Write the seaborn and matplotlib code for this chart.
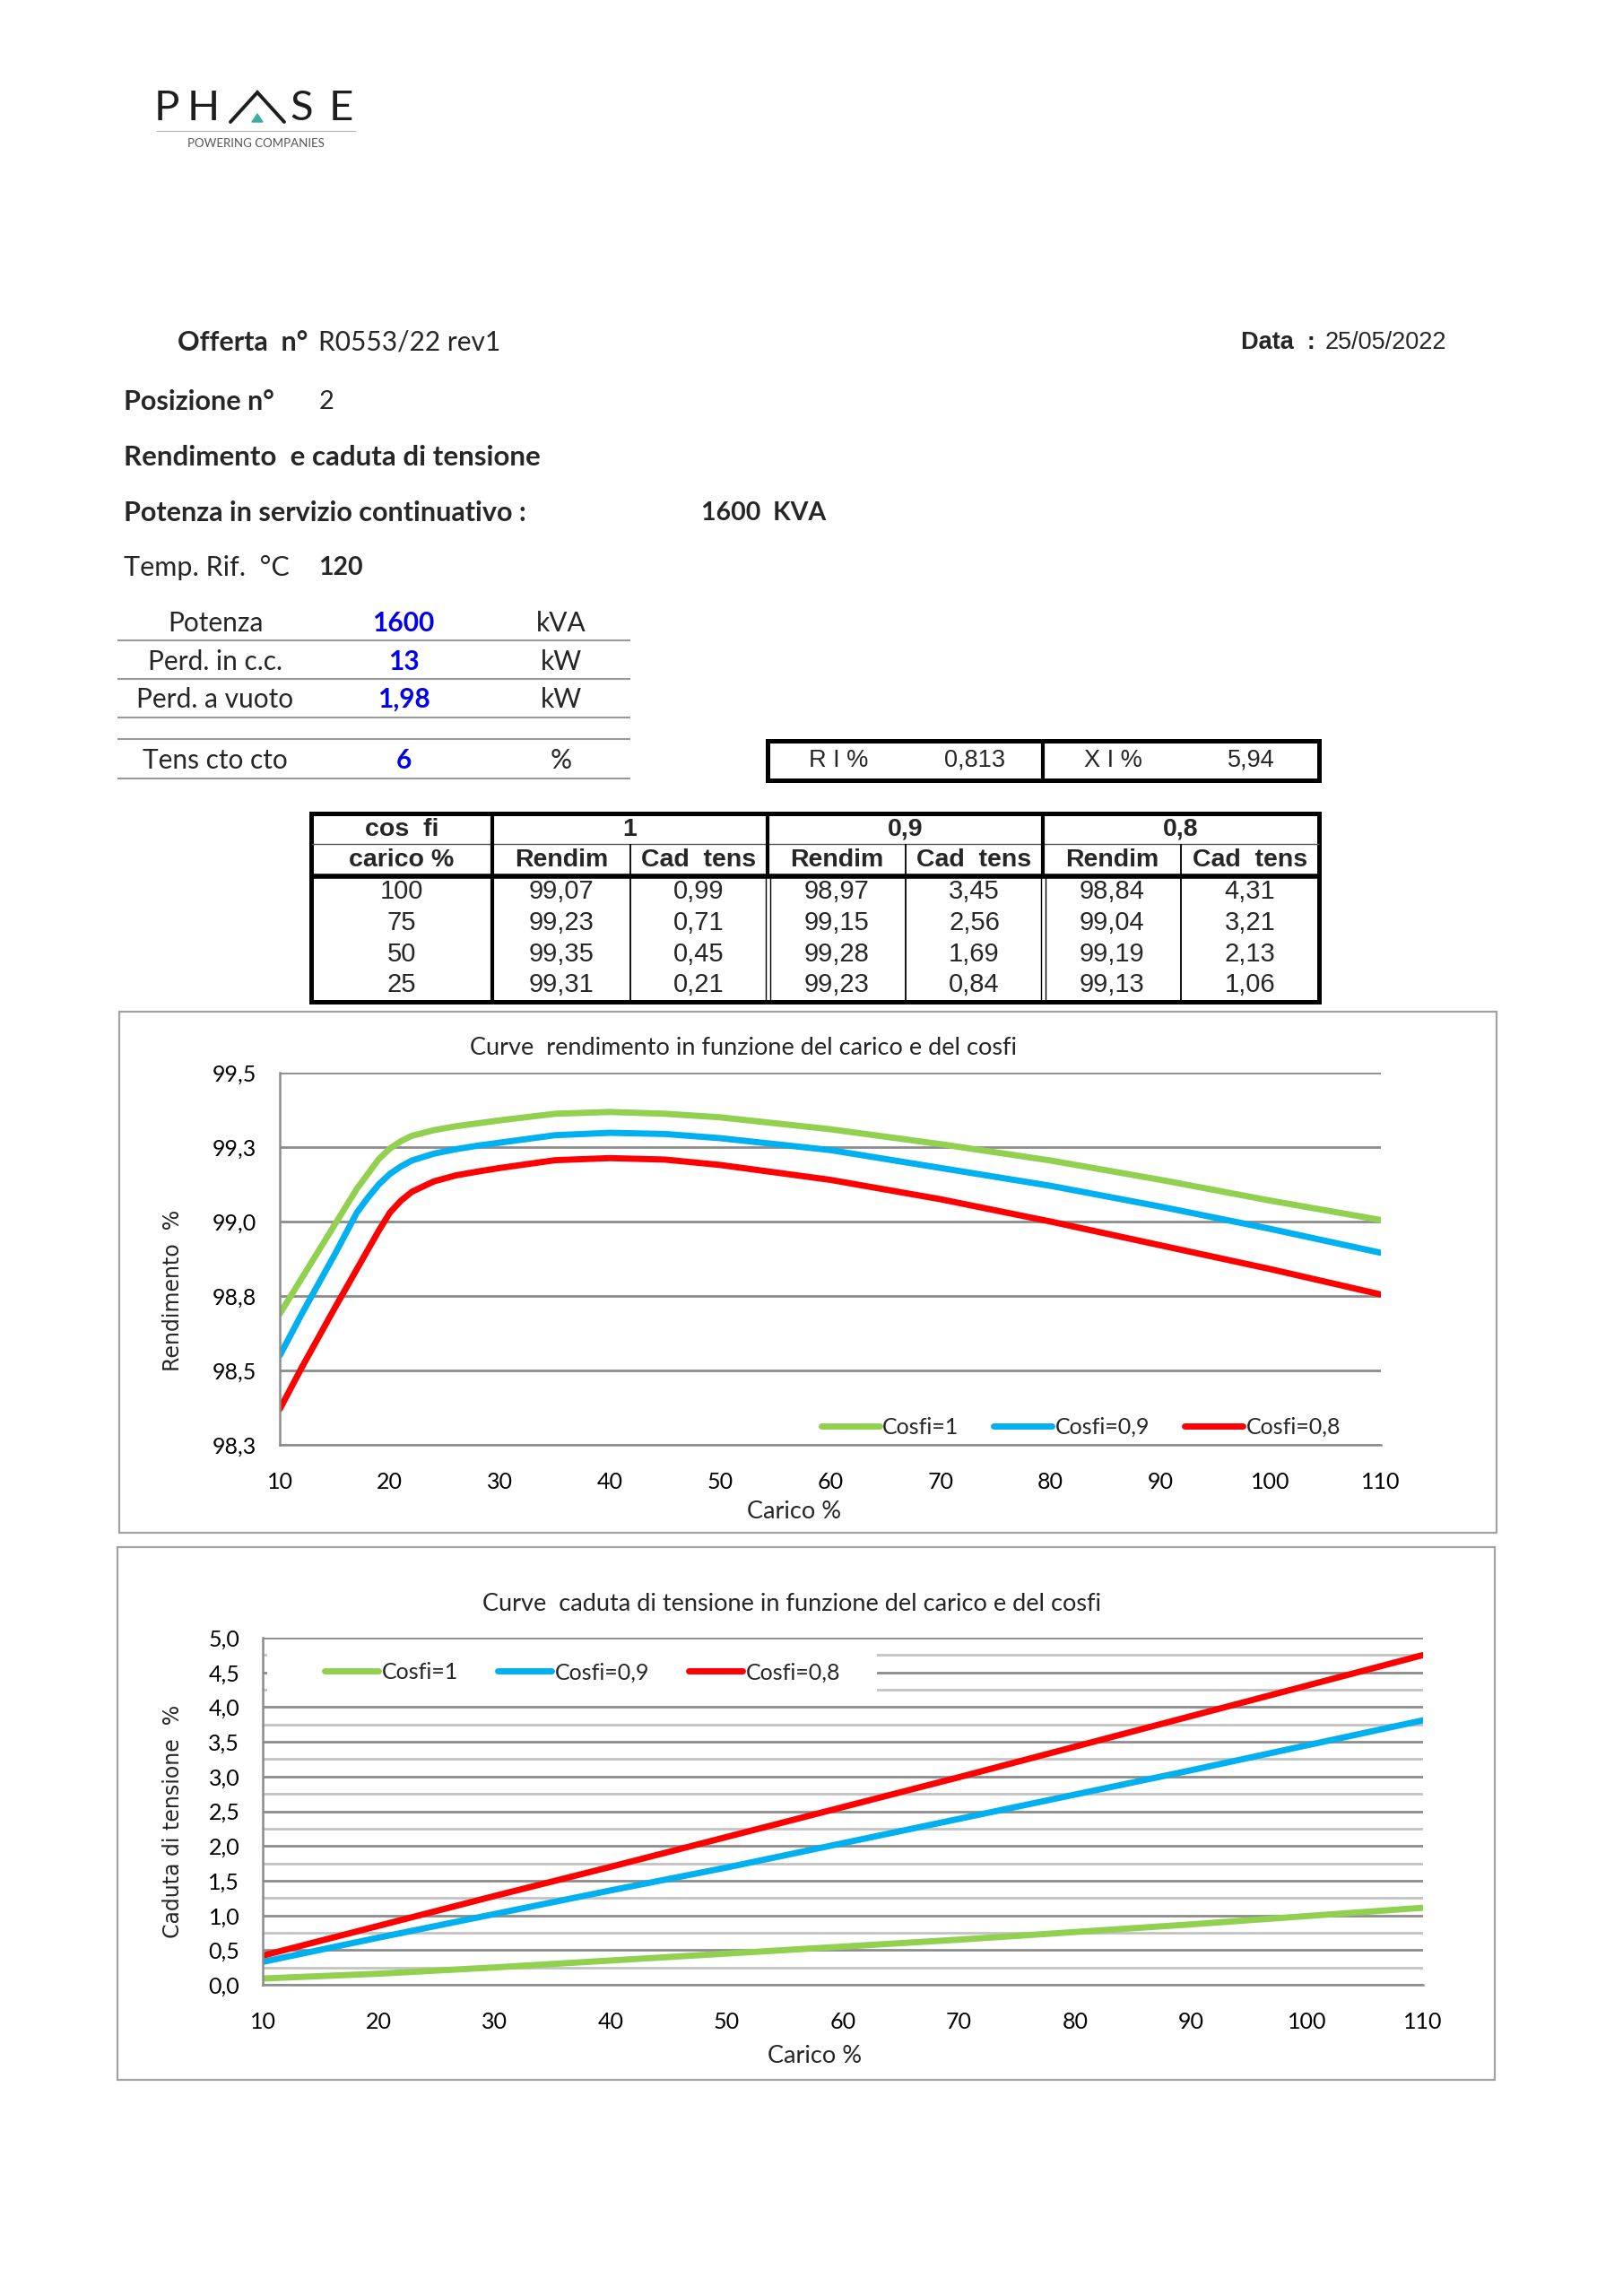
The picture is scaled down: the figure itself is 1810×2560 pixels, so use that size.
import numpy as np
import pandas as pd
import matplotlib
matplotlib.use("Agg")
import matplotlib.pyplot as plt
import seaborn as sns
from matplotlib.lines import Line2D
from matplotlib.patches import Rectangle, Polygon
from matplotlib.ticker import FuncFormatter, MultipleLocator

# --- curve rendimento ---
carico_rend = [10, 12, 15, 17, 18, 19, 20, 21, 22, 24, 26, 28, 30, 35, 40, 45, 50, 60, 70, 80, 90, 100, 110]
rend_cos1 = [98.69, 98.81, 98.99, 99.11, 99.16, 99.21, 99.245, 99.27, 99.288, 99.307, 99.32, 99.33, 99.34,
             99.362, 99.368, 99.362, 99.35, 99.31, 99.26, 99.205, 99.14, 99.07, 99.005]
rend_cos09 = [98.55, 98.69, 98.89, 99.03, 99.08, 99.125, 99.16, 99.185, 99.205, 99.228, 99.243, 99.255, 99.265,
              99.29, 99.298, 99.294, 99.28, 99.24, 99.18, 99.12, 99.05, 98.975, 98.895]
rend_cos08 = [98.37, 98.51, 98.71, 98.84, 98.905, 98.97, 99.03, 99.07, 99.10, 99.135, 99.155, 99.168, 99.18,
              99.206, 99.213, 99.208, 99.19, 99.14, 99.075, 99.0, 98.92, 98.84, 98.755]

# --- curve caduta di tensione ---
carico_cad = [10, 20, 30, 40, 50, 60, 70, 80, 90, 100, 110]
cad_cos1 = [0.09, 0.16, 0.25, 0.35, 0.45, 0.55, 0.65, 0.76, 0.87, 0.99, 1.11]
cad_cos09 = [0.33, 0.68, 1.02, 1.36, 1.69, 2.04, 2.39, 2.74, 3.09, 3.45, 3.81]
cad_cos08 = [0.42, 0.85, 1.28, 1.70, 2.13, 2.56, 2.99, 3.43, 3.87, 4.31, 4.75]

serie = ["Cosfi=1", "Cosfi=0,9", "Cosfi=0,8"]
colori = ["#92d050", "#00b0f0", "#ff0000"]

# --- tabelle ---
dati_labels = ["Potenza", "Perd. in c.c.", "Perd. a vuoto", "Tens cto cto"]
dati_valori = ["1600", "13", "1,98", "6"]
dati_unita = ["kVA", "kW", "kW", "%"]

tab_carico = [100, 75, 50, 25]
tab_rendim_1 = [99.07, 99.23, 99.35, 99.31]
tab_cad_1 = [0.99, 0.71, 0.45, 0.21]
tab_rendim_09 = [98.97, 99.15, 99.28, 99.23]
tab_cad_09 = [3.45, 2.56, 1.69, 0.84]
tab_rendim_08 = [98.84, 99.04, 99.19, 99.13]
tab_cad_08 = [4.31, 3.21, 2.13, 1.06]

ri_pct = 0.813
xi_pct = 5.94


def virgola(v, nd=2):
    return f"{v + 1e-9:.{nd}f}".replace(".", ",")


sns.set_style("white")
plt.rcParams['font.family'] = ['Lato', 'DejaVu Sans']

W, H = 1810, 2560
fig = plt.figure(figsize=(W / 100, H / 100), dpi=100)
page = fig.add_axes([0, 0, 1, 1], zorder=0)
page.set_xlim(0, W)
page.set_ylim(H, 0)
page.axis("off")

ARIAL = ['Liberation Sans', 'DejaVu Sans']


def hline(x0, x1, y, color="black", lw=1.0):
    page.plot([x0, x1], [y, y], color=color, lw=lw, solid_capstyle="butt")


def vline(x, y0, y1, color="black", lw=1.0):
    page.plot([x, x], [y0, y1], color=color, lw=lw, solid_capstyle="butt")


# logo
for ch, xc in zip("PHSE", [186, 227, 336, 380]):
    page.text(xc, 121, ch, fontsize=34, ha="center", va="center", color="#1e1e1e")
page.plot([257, 287, 317], [136, 103, 136], color="#1e1e1e", lw=2.8, solid_joinstyle="miter")
page.add_patch(Polygon([[281, 136], [293, 136], [287, 127]], closed=True, color="#3fa9a3"))
hline(174, 397, 146, color="#b5b5b5", lw=0.8)
page.text(285, 160, "POWERING COMPANIES", fontsize=9.5, ha="center", va="center", color="#555555")

# intestazione
page.text(198, 382, "Offerta  n°", fontsize=22, fontweight="bold", va="center")
page.text(355, 382, "R0553/22 rev1", fontsize=21.5, va="center")
page.text(1384, 382, "Data  :", fontsize=19.5, fontweight="bold", va="center", family=ARIAL)
page.text(1478, 382, "25/05/2022", fontsize=19.5, va="center", family=ARIAL)
page.text(138, 448, "Posizione n°", fontsize=22, fontweight="bold", va="center")
page.text(356, 448, "2", fontsize=21, va="center")
page.text(138, 510, "Rendimento  e caduta di tensione", fontsize=22.5, fontweight="bold", va="center")
page.text(138, 572, "Potenza in servizio continuativo :", fontsize=22, fontweight="bold", va="center")
page.text(782, 572, "1600  KVA", fontsize=20.5, fontweight="bold", va="center")
page.text(138, 633, "Temp. Rif.  °C", fontsize=22, va="center")
page.text(355, 633, "120", fontsize=20.5, fontweight="bold", va="center")

# tabella dati
for lab, val, un, yc in zip(dati_labels, dati_valori, dati_unita, [695, 738, 780, 848]):
    page.text(240, yc, lab, fontsize=21.5, ha="center", va="center")
    page.text(450, yc, val, fontsize=21.5, ha="center", va="center", fontweight="bold", color="#0000ee")
    page.text(626, yc, un, fontsize=21.5, ha="center", va="center")
for yl in [714, 757, 800, 824, 868]:
    hline(131, 703, yl, color="#9a9a9a", lw=1.5)

# box R I% / X I%
page.add_patch(Rectangle((856, 826), 1471 - 856, 870 - 826, fill=False, ec="black", lw=3.6))
vline(1163, 826, 870, lw=3.0)
page.text(935, 848, "R I %", fontsize=19.5, ha="center", va="center", family=ARIAL)
page.text(1087, 848, virgola(ri_pct, 3), fontsize=19.5, ha="center", va="center", family=ARIAL)
page.text(1241, 848, "X I %", fontsize=19.5, ha="center", va="center", family=ARIAL)
page.text(1395, 848, virgola(xi_pct, 2), fontsize=19.5, ha="center", va="center", family=ARIAL)

# tabella rendimento / caduta
cols = [347, 549, 703, 856, 1010, 1163, 1317, 1471]
t_top, t_mid, t_head, t_bot = 907, 941, 977, 1117
page.add_patch(Rectangle((cols[0], t_top), cols[-1] - cols[0], t_bot - t_top, fill=False, ec="black", lw=3.6))
hline(cols[0], cols[-1], t_mid, color="#555555", lw=1.0)
hline(cols[0], cols[-1], t_head, lw=4.0)
vline(cols[1], t_top, t_bot, lw=3.0)
for xc in [cols[3], cols[5]]:
    vline(xc, t_top, t_head, lw=3.0)
    vline(xc - 2.5, t_head, t_bot, lw=1.0)
    vline(xc + 2.5, t_head, t_bot, lw=1.0)
for xc in [cols[2], cols[4], cols[6]]:
    vline(xc, t_mid, t_bot, lw=1.3)

page.text((cols[0] + cols[1]) / 2, 925, "cos  fi", fontsize=20.5, fontweight="bold", ha="center", va="center", family=ARIAL)
page.text((cols[0] + cols[1]) / 2, 959, "carico %", fontsize=20.5, fontweight="bold", ha="center", va="center", family=ARIAL)
for i, cf in enumerate(["1", "0,9", "0,8"]):
    page.text((cols[1 + 2 * i] + cols[3 + 2 * i]) / 2, 925, cf, fontsize=20.5, fontweight="bold",
              ha="center", va="center", family=ARIAL)
    page.text((cols[1 + 2 * i] + cols[2 + 2 * i]) / 2, 959, "Rendim", fontsize=20.5, fontweight="bold",
              ha="center", va="center", family=ARIAL)
    page.text((cols[2 + 2 * i] + cols[3 + 2 * i]) / 2, 959, "Cad  tens", fontsize=20.5, fontweight="bold",
              ha="center", va="center", family=ARIAL)

colonne = [tab_rendim_1, tab_cad_1, tab_rendim_09, tab_cad_09, tab_rendim_08, tab_cad_08]
for r, yc in enumerate([994, 1029, 1064, 1098]):
    page.text((cols[0] + cols[1]) / 2, yc, str(tab_carico[r]), fontsize=21, ha="center", va="center", family=ARIAL)
    for c, col in enumerate(colonne):
        page.text((cols[c + 1] + cols[c + 2]) / 2, yc, virgola(col[r]), fontsize=21,
                  ha="center", va="center", family=ARIAL)

# cornici dei grafici
page.add_patch(Rectangle((133, 1128), 1669 - 133, 1709 - 1128, fill=False, ec="#a3a3a3", lw=1.6))
page.add_patch(Rectangle((131, 1725), 1667 - 131, 2319 - 1725, fill=False, ec="#a3a3a3", lw=1.6))


def box(x0, y0, x1, y1):
    return [x0 / W, 1 - y1 / H, (x1 - x0) / W, (y1 - y0) / H]


GRID = "#8c8c8c"
fmt1 = FuncFormatter(lambda v, p: virgola(v, 1))

df1 = pd.DataFrame({
    "Carico %": carico_rend * 3,
    "Rendimento": rend_cos1 + rend_cos09 + rend_cos08,
    "cosfi": sum([[s] * len(carico_rend) for s in serie], []),
})
df2 = pd.DataFrame({
    "Carico %": carico_cad * 3,
    "Caduta": cad_cos1 + cad_cos09 + cad_cos08,
    "cosfi": sum([[s] * len(carico_cad) for s in serie], []),
})
pal = dict(zip(serie, colori))

# grafico rendimento
ax1 = fig.add_axes(box(312, 1196, 1540, 1611), zorder=2)
ax1.set_facecolor("none")
sns.lineplot(data=df1, x="Carico %", y="Rendimento", hue="cosfi", palette=pal, linewidth=5,
             estimator=None, sort=False, legend=False, solid_capstyle="round",
             solid_joinstyle="round", ax=ax1)
ax1.set_xlim(10, 110)
ax1.set_ylim(98.25, 99.5)
ax1.xaxis.set_major_locator(MultipleLocator(10))
ax1.yaxis.set_major_locator(MultipleLocator(0.25))
ax1.yaxis.set_major_formatter(fmt1)
ax1.set_axisbelow(True)
ax1.yaxis.grid(True, color=GRID, lw=2.0)
ax1.xaxis.grid(False)

# grafico caduta di tensione
ax2 = fig.add_axes(box(293, 1826, 1587, 2213), zorder=2)
ax2.set_facecolor("none")
sns.lineplot(data=df2, x="Carico %", y="Caduta", hue="cosfi", palette=pal, linewidth=5,
             estimator=None, sort=False, legend=False, solid_capstyle="round", ax=ax2)
ax2.set_xlim(10, 110)
ax2.set_ylim(0, 5)
ax2.xaxis.set_major_locator(MultipleLocator(10))
ax2.yaxis.set_major_locator(MultipleLocator(0.5))
ax2.yaxis.set_minor_locator(MultipleLocator(0.25))
ax2.yaxis.set_major_formatter(fmt1)
ax2.set_axisbelow(True)
ax2.yaxis.grid(True, which="major", color=GRID, lw=2.0)
ax2.yaxis.grid(True, which="minor", color="#c3c3c3", lw=2.0)
ax2.xaxis.grid(False)
ax2.tick_params(axis="y", which="minor", direction="in", length=5, width=1.4, color=GRID)
ax2.add_patch(Rectangle((0.004, 0.835), 0.525, 0.13, transform=ax2.transAxes, fc="white", ec="none", zorder=1))

for ax in [ax1, ax2]:
    for s in ["top", "right"]:
        ax.spines[s].set_visible(False)
    for s in ["left", "bottom"]:
        ax.spines[s].set_color(GRID)
        ax.spines[s].set_linewidth(1.8)
    ax.tick_params(axis="both", which="major", direction="out", length=6.5, width=1.4,
                   color=GRID, labelsize=18, labelcolor="black", pad=12)
    ax.tick_params(axis="x", which="major", pad=15)

handles = [Line2D([], [], color=c, lw=5, solid_capstyle="round") for c in colori]
ax1.legend(handles, serie, loc="center right", bbox_to_anchor=(0.974, 0.048), ncol=3, frameon=False,
           fontsize=18, handlelength=2.6, handletextpad=0.15, columnspacing=1.55, borderpad=0)
ax2.legend(handles, serie, loc="center left", bbox_to_anchor=(0.044, 0.9), ncol=3, frameon=False,
           fontsize=18, handlelength=2.4, handletextpad=0.15, columnspacing=1.75, borderpad=0)

ax1.set_title("Curve  rendimento in funzione del carico e del cosfi", fontsize=19.5,
              x=(829 - 312) / 1228, y=(1611 - 1177) / 415, va="center")
ax2.set_title("Curve  caduta di tensione in funzione del carico e del cosfi", fontsize=19.5,
              x=(883 - 293) / 1294, y=(2213 - 1797) / 387, va="center")

ax1.set_xlabel("Carico %", fontsize=19.5)
ax1.xaxis.set_label_coords((886 - 312) / 1228, (1611 - 1673) / 415)
ax2.set_xlabel("Carico %", fontsize=19.5)
ax2.xaxis.set_label_coords((909 - 293) / 1294, (2213 - 2280) / 387)

ax1.set_ylabel("Rendimento  %", fontsize=17, family=['DejaVu Sans'])
ax1.yaxis.set_label_coords((205 - 312) / 1228, (1611 - 1439) / 415)
ax2.set_ylabel("Caduta di tensione  %", fontsize=17, family=['DejaVu Sans'])
ax2.yaxis.set_label_coords((205 - 293) / 1294, (2213 - 2031) / 387)

fig.savefig("out.png", dpi=100)
